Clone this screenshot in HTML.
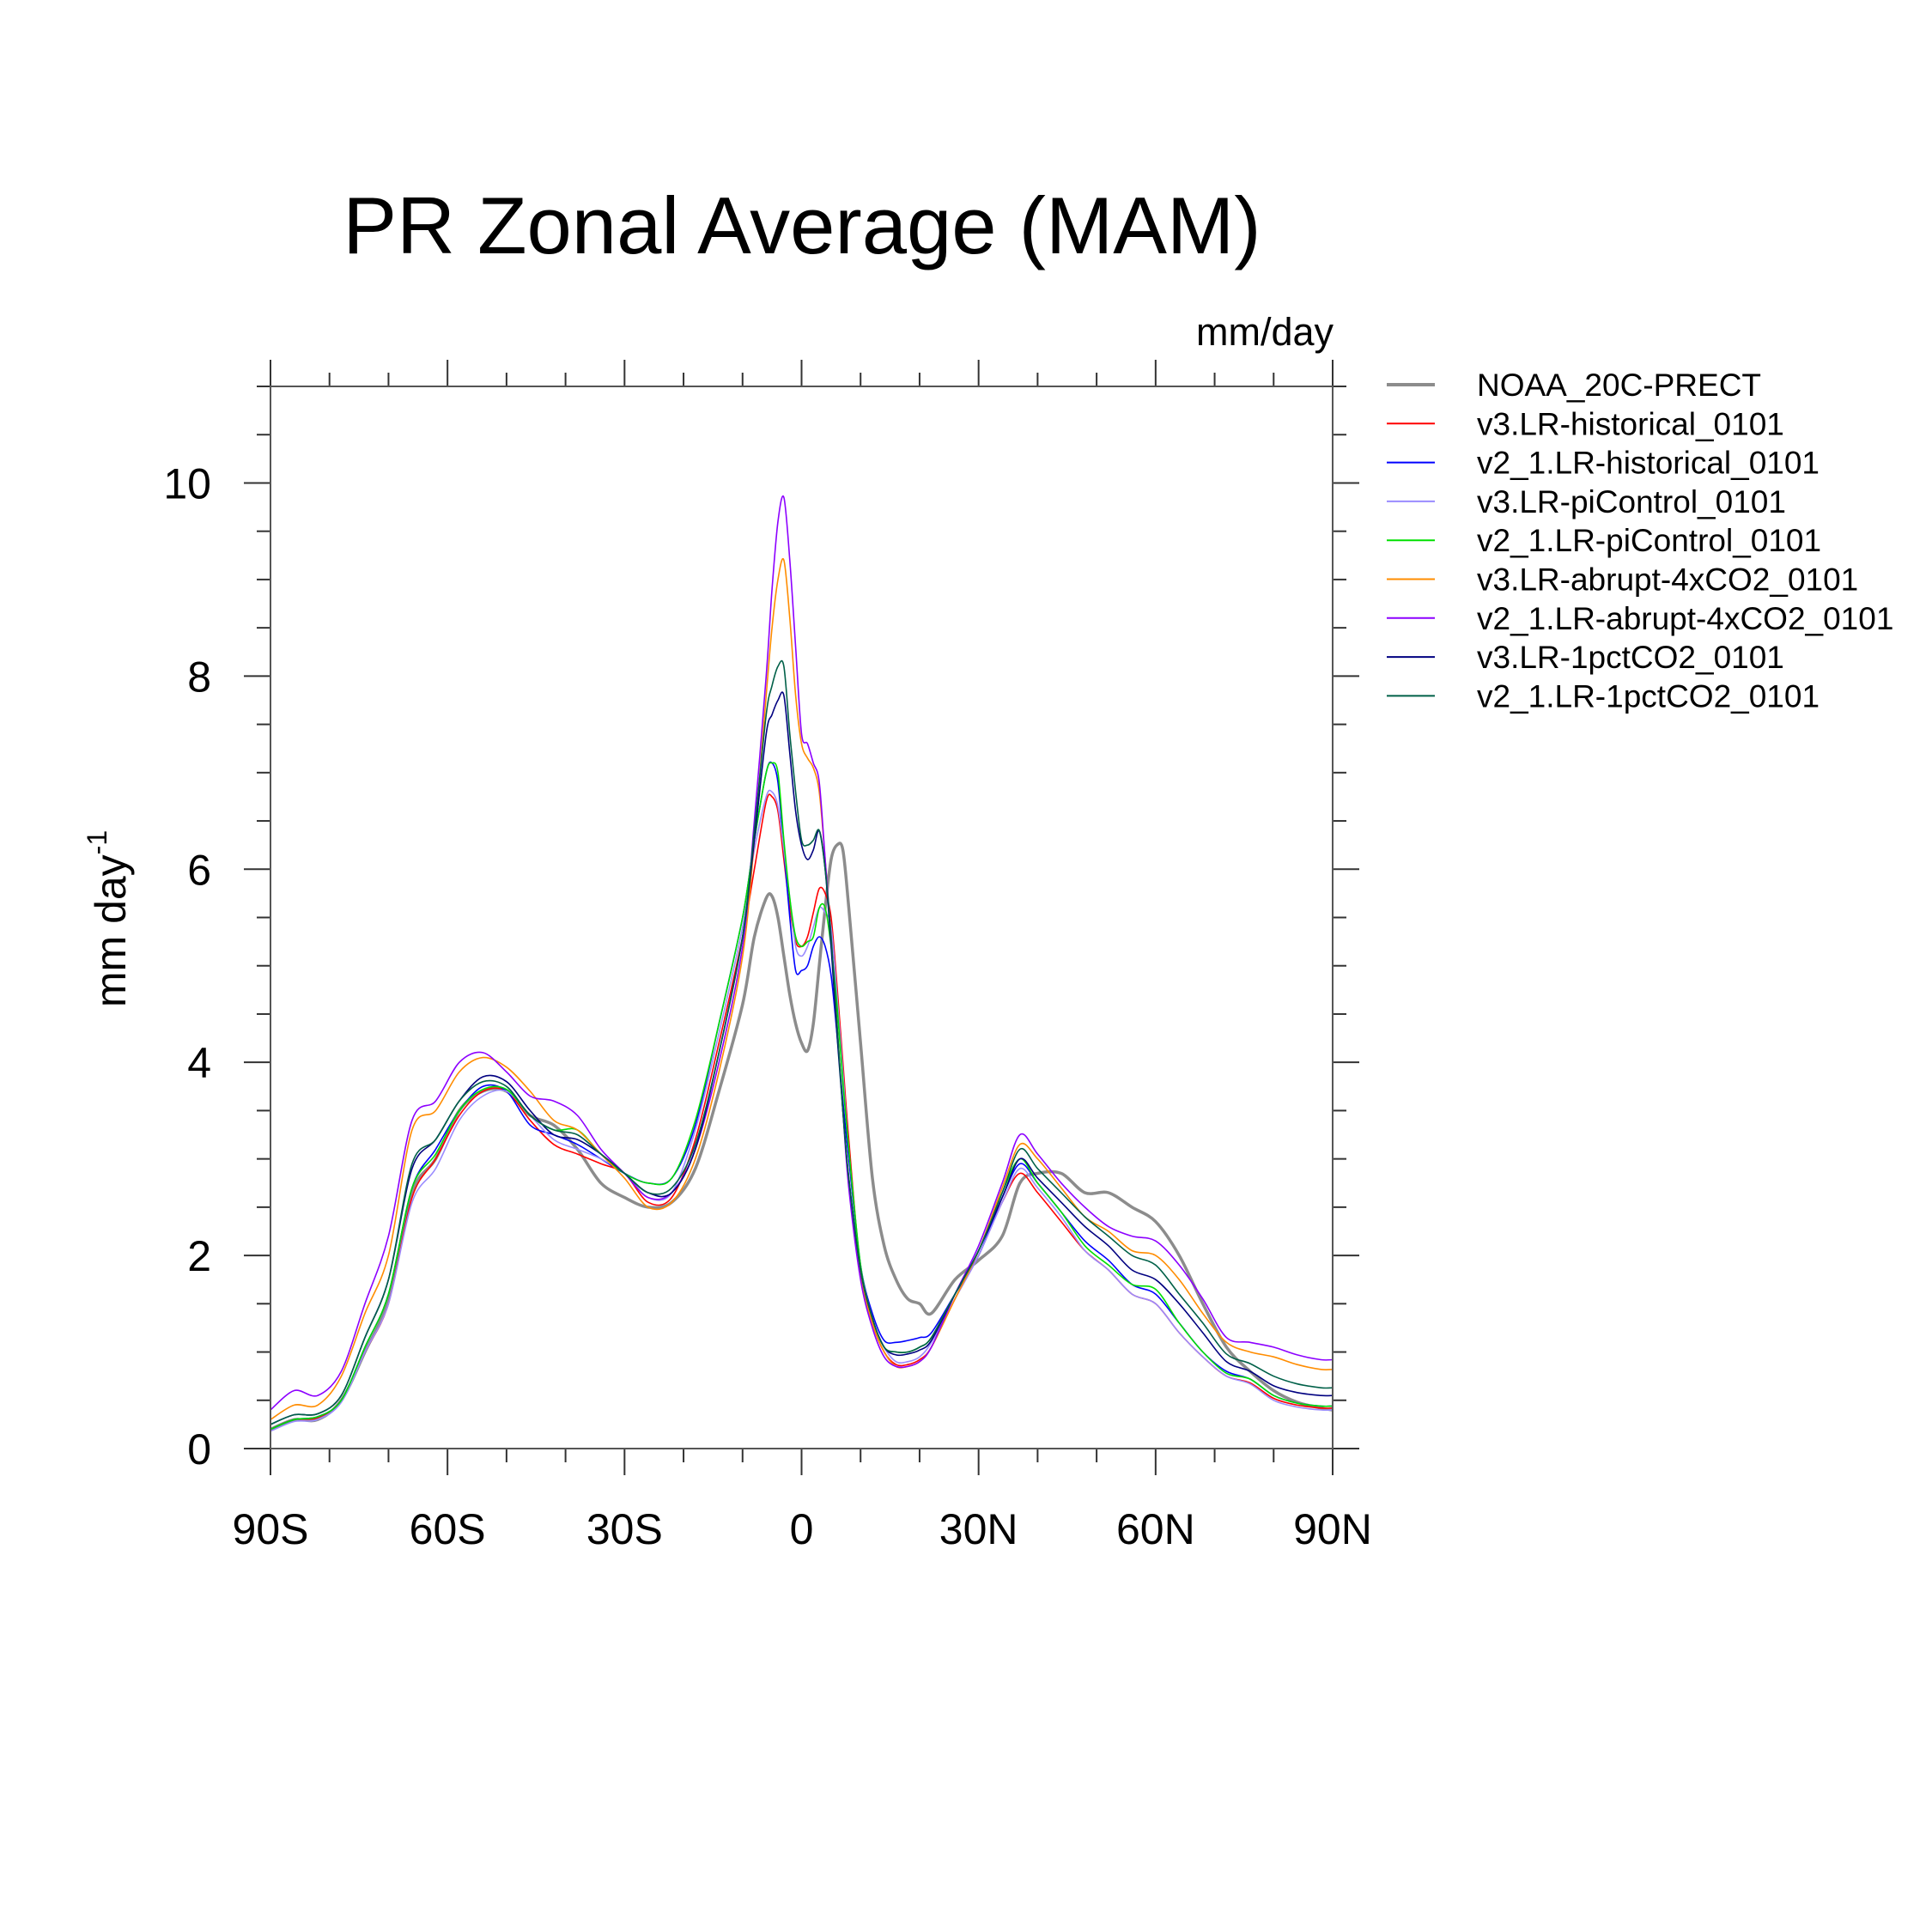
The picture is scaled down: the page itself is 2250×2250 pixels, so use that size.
<!DOCTYPE html>
<html><head><meta charset="utf-8"><style>
html,body{margin:0;padding:0;background:#fff;}
svg{display:block;font-family:"Liberation Sans",sans-serif;}
</style></head><body>
<svg id="chart" width="2250" height="2250" viewBox="0 0 2250 2250" xmlns="http://www.w3.org/2000/svg">
<text x="934" y="295" font-size="94" text-anchor="middle">PR Zonal Average (MAM)</text>
<text x="1553" y="402" font-size="45" text-anchor="end">mm/day</text>
<text transform="translate(146,1070) rotate(-90)" font-size="50" text-anchor="middle">mm day<tspan font-size="32" dy="-22">-1</tspan></text>
<g id="ticks"></g>
<g id="series"></g>
<rect x="315" y="450" width="1237" height="1237" fill="none" stroke="#555" stroke-width="2"/>
<g id="legend"></g>
</svg>
<script>
const lats = [-90,-86,-82,-78,-74,-70,-66,-62,-58,-54,-50,-46,-42,-38,-34,-30,-26,-22,-18,-14,-10,-8,-6,-5,-4,-3,-2,-1,0,1,2,3,4,5,6,7,8,10,12,14,16,18,20,22,26,30,34,37,40,44,48,52,56,60,64,68,72,76,80,84,88,90];
const noaa = [0.2,0.3,0.3,0.5,1.0,1.55,2.65,3.0,3.5,3.7,3.7,3.45,3.35,3.1,2.75,2.6,2.5,2.55,2.9,3.7,4.6, 5.3,5.7, 5.72,5.5,5.1,4.7,4.4,4.2,4.12,4.4,5.0,5.6,6.1,6.25,6.2,5.6, 4.2,2.8,2.1,1.75,1.55,1.5,1.4, 1.75,1.95,2.2,2.75,2.85,2.85,2.65,2.65,2.5,2.35,2.0,1.5,1.05,0.8,0.6,0.48,0.42,0.4];
const v3Hist = [0.2,0.3,0.32,0.5,1.0,1.5,2.6,3.0,3.45,3.7,3.7,3.4,3.15,3.05,2.95,2.85,2.55,2.6,3.2,4.2,5.3, 6.0,6.7, 6.75,6.6,6.1,5.6,5.25,5.2,5.3,5.55,5.8,5.75,5.5,4.8,4.0,3.2, 1.85,1.3,1.0,0.87,0.87,0.92,1.05, 1.55,2.0,2.55,2.85,2.65,2.35,2.05,1.85,1.6,1.5,1.2,0.95,0.75,0.68,0.52,0.45,0.42,0.42];
const v21Hist = [0.2,0.3,0.33,0.5,1.05,1.6,2.7,3.1,3.5,3.75,3.7,3.35,3.25,3.15,3.0,2.85,2.75,2.8,3.35,4.4,5.5, 6.3,7.0, 7.1,6.9,6.2,5.5,4.95,4.95,5.0,5.2,5.3,5.2,4.9,4.3,3.6,3.0, 1.9,1.4,1.12,1.1,1.12,1.15,1.2, 1.6,2.0,2.6,2.95,2.75,2.45,2.15,1.95,1.7,1.6,1.3,1.0,0.8,0.72,0.55,0.47,0.44,0.44];
const v3Pi = [0.18,0.28,0.3,0.48,1.0,1.5,2.55,2.9,3.4,3.65,3.7,3.45,3.2,3.1,3.0,2.85,2.6,2.65,3.3,4.3,5.4, 6.2,6.75, 6.8,6.65,6.2,5.7,5.2,5.1,5.2,5.4,5.6,5.55,5.4,4.7,3.9,3.1, 1.9,1.35,1.05,0.9,0.9,0.95,1.1, 1.55,2.0,2.55,2.9,2.7,2.4,2.05,1.85,1.6,1.5,1.2,0.95,0.75,0.67,0.5,0.43,0.4,0.4];
const v21Pi = [0.2,0.3,0.33,0.5,1.05,1.6,2.7,3.05,3.5,3.72,3.72,3.45,3.3,3.3,3.05,2.85,2.75,2.8,3.4,4.4,5.5, 6.3,7.0, 7.1,7.0,6.3,5.7,5.3,5.2,5.25,5.3,5.6,5.6,5.2,4.6,3.8,3.1, 1.9,1.35,1.05,1.0,1.0,1.05,1.15, 1.6,2.05,2.65,3.0,2.75,2.45,2.1,1.9,1.7,1.65,1.3,1.0,0.78,0.72,0.55,0.47,0.44,0.44];
const v3Abr = [0.3,0.45,0.45,0.75,1.4,2.0,3.3,3.5,3.9,4.05,3.95,3.7,3.4,3.3,3.05,2.8,2.5,2.55,3.0,3.9,5.1, 6.3,7.8, 8.5,9.0,9.2,8.6,7.8,7.3,7.15,7.05,6.8,6.1,5.3,4.4,3.5,2.8, 1.8,1.3,1.0,0.85,0.85,0.9,1.05, 1.55,2.05,2.7,3.15,3.0,2.7,2.4,2.25,2.05,2.0,1.75,1.4,1.1,1.0,0.95,0.87,0.82,0.82];
const v21Abr = [0.4,0.6,0.55,0.8,1.5,2.2,3.4,3.6,4.0,4.1,3.9,3.65,3.6,3.45,3.1,2.85,2.6,2.65,3.1,4.0,5.2, 6.5,8.0, 8.9,9.6,9.85,9.2,8.3,7.4,7.3,7.1,6.9,6.1,5.3,4.4,3.5,2.7, 1.75,1.25,0.95,0.85,0.85,0.9,1.05, 1.6,2.1,2.75,3.25,3.05,2.75,2.5,2.3,2.2,2.15,1.9,1.55,1.15,1.1,1.05,0.97,0.92,0.92];
const v3Pct = [0.25,0.35,0.36,0.55,1.15,1.75,2.9,3.2,3.6,3.85,3.8,3.5,3.25,3.2,3.05,2.85,2.65,2.65,3.1,4.1,5.3, 6.3,7.4, 7.6,7.75,7.8,7.2,6.6,6.25,6.1,6.2,6.4,6.0,5.2,4.3,3.5,2.8, 1.85,1.35,1.05,0.97,0.98,1.02,1.12, 1.6,2.05,2.6,3.0,2.8,2.55,2.3,2.1,1.85,1.75,1.5,1.2,0.9,0.8,0.65,0.58,0.55,0.55];
const v21Pct = [0.25,0.35,0.36,0.55,1.15,1.75,2.95,3.2,3.6,3.8,3.75,3.45,3.3,3.25,3.05,2.85,2.65,2.7,3.15,4.1,5.3, 6.4,7.6, 7.9,8.1,8.1,7.4,6.8,6.3,6.25,6.3,6.4,6.0,5.3,4.4,3.5,2.8, 1.85,1.35,1.05,1.0,1.0,1.05,1.15, 1.6,2.05,2.65,3.1,2.9,2.65,2.4,2.2,2.0,1.9,1.6,1.3,0.98,0.88,0.75,0.67,0.63,0.63];
const seriesNames = ["NOAA_20C-PRECT","v3.LR-historical_0101","v2_1.LR-historical_0101","v3.LR-piControl_0101","v2_1.LR-piControl_0101","v3.LR-abrupt-4xCO2_0101","v2_1.LR-abrupt-4xCO2_0101","v3.LR-1pctCO2_0101","v2_1.LR-1pctCO2_0101"];
const xTickVals = [-90,-60,-30,0,30,60,90];
const xTickLabels = ["90S","60S","30S","0","30N","60N","90N"];
const yTickVals = [0,2,4,6,8,10];
const yTickLabels = ["0","2","4","6","8","10"];

const seriesData = [noaa,v3Hist,v21Hist,v3Pi,v21Pi,v3Abr,v21Abr,v3Pct,v21Pct];
const colors = ["#8c8c8c","#ff0000","#0000ff","#9a8cff","#00e000","#ff8c00","#8c00ff","#000080","#006048"];
const widths = [3.5,1.6,1.6,1.6,1.6,1.6,1.6,1.6,1.6];
const X0=315,X1=1552,Y0=1687,Y1=450;
const xs = v => X0 + (v+90)/180*(X1-X0);
const ys = v => Y0 - v/11*(Y0-Y1);
const NS="http://www.w3.org/2000/svg";
function mk(tag, attrs, parent){const e=document.createElementNS(NS,tag);for(const k in attrs)e.setAttribute(k,attrs[k]);parent.appendChild(e);return e;}
function smoothPath(P){
  let d='M'+P[0][0].toFixed(1)+','+P[0][1].toFixed(1);
  for(let i=0;i<P.length-1;i++){
    const p0=P[Math.max(0,i-1)],p1=P[i],p2=P[i+1],p3=P[Math.min(P.length-1,i+2)];
    const t=0.16;
    const c1=[p1[0]+(p2[0]-p0[0])*t,p1[1]+(p2[1]-p0[1])*t];
    const c2=[p2[0]-(p3[0]-p1[0])*t,p2[1]-(p3[1]-p1[1])*t];
    d+=' C'+c1[0].toFixed(1)+','+c1[1].toFixed(1)+' '+c2[0].toFixed(1)+','+c2[1].toFixed(1)+' '+p2[0].toFixed(1)+','+p2[1].toFixed(1);
  }
  return d;
}
const tg=document.getElementById('ticks');
for(let v=-90;v<=90;v+=10){
  const major=v%30===0, L=major?31:16, x=xs(v);
  const t1=mk('line',{x1:x,x2:x,y1:Y0,y2:Y0+L,stroke:'#333','stroke-width':2},tg);
  
  
  const t2=mk('line',{x1:x,x2:x,y1:Y1,y2:Y1-L,stroke:'#333','stroke-width':2},tg);
  
  
}
for(let i=0;i<=22;i++){
  const v=i*0.5, major=(i%4===0), L=major?31:16, y=ys(v);
  const t1=mk('line',{x1:X0,x2:X0-L,y1:y,y2:y,stroke:'#333','stroke-width':2},tg);
  
  
  const t2=mk('line',{x1:X1,x2:X1+L,y1:y,y2:y,stroke:'#333','stroke-width':2},tg);
  
  
}
xTickVals.forEach((v,i)=>{
  const t=mk('text',{x:xs(v),y:1798,'font-size':50,'text-anchor':'middle'},tg);
  t.textContent=xTickLabels[i];
  
  
});
yTickVals.forEach((v,i)=>{
  const t=mk('text',{x:246,y:ys(v)+18,'font-size':50,'text-anchor':'end'},tg);
  t.textContent=yTickLabels[i];
  
  
});
const sg=document.getElementById('series');
const lg=document.getElementById('legend');
seriesData.forEach((d,i)=>{
  const P=lats.map((la,j)=>[xs(la),ys(d[j])]);
  const p=mk('path',{d:smoothPath(P),fill:'none',stroke:colors[i],'stroke-width':widths[i],'stroke-linejoin':'round'},sg);
  
  
  const y=448+i*45.3;
  const ll=mk('line',{x1:1615,x2:1671,y1:y,y2:y,stroke:colors[i],'stroke-width':i===0?4:2},lg);
  
  
  const lt=mk('text',{x:1720,y:y+13,'font-size':37},lg);
  lt.textContent=seriesNames[i];
  
  
});
</script>
</body></html>
